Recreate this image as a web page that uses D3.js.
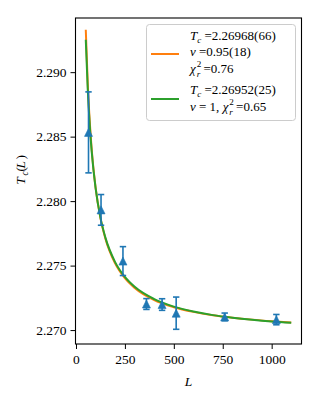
<!DOCTYPE html>
<html>
<head>
<meta charset="utf-8">
<script src="https://cdn.jsdelivr.net/npm/d3@7"></script>
<style>
  body { margin: 0; background: #fff; }
  svg text, svg tspan { font-family: "Liberation Serif", "Times New Roman", "DejaVu Serif", serif !important; }
</style>
</head>
<body>
<div id="container"></div>
<script>
/**
 * DATA
 * */
const sizeL = [64, 128, 240, 360, 440, 512, 760, 1024];
const tcValues = [2.28533, 2.27932, 2.27535, 2.27202, 2.27198, 2.27131, 2.27102, 2.27081];
const tcErrors = [0.00314, 0.00119, 0.00112, 0.00042, 0.00045, 0.00125, 0.0003, 0.0004];

// fit curves, sampled along L
const fitL = [50, 60, 70, 80, 100, 125, 150, 200, 250, 300, 400, 500, 600, 700, 800, 900, 1000, 1100];
const fitFreeNu = [2.29329, 2.28916, 2.28625, 2.28407, 2.28106, 2.27868, 2.27711, 2.27517, 2.27402,
  2.27326, 2.27232, 2.27177, 2.27141, 2.27115, 2.27096, 2.27081, 2.27069, 2.27059];
const fitNuOne = [2.29252, 2.28869, 2.28595, 2.28390, 2.28102, 2.27872, 2.27719, 2.27527, 2.27412,
  2.27335, 2.27240, 2.27182, 2.27144, 2.27116, 2.27096, 2.27080, 2.27067, 2.27057];

const xTicks = [0, 250, 500, 750, 1000];
const yTicks = [2.270, 2.275, 2.280, 2.285, 2.290];

/**
 * CONSTANTS
 * */
const width = 320, height = 400;
const plot = { left: 75.5, right: 301.5, top: 18, bottom: 344 };
const blue = "#1f77b4", orange = "#ff7f0e", green = "#2ca02c";
const serif = "'Liberation Serif', 'Times New Roman', serif";
const fs = 13.5;

const svg = d3.select("#container")
  .append("svg")
  .attr("width", width)
  .attr("height", height)
  .attr("font-family", serif);

const x = d3.scaleLinear().domain([-2.5, 1152.5]).range([plot.left, plot.right]);
const y = d3.scaleLinear().domain([2.26892, 2.2942]).range([plot.bottom, plot.top]);

// axes
const xAxis = svg.append("g")
  .attr("transform", `translate(0,${plot.bottom})`)
  .call(d3.axisBottom(x).tickValues(xTicks).tickFormat(d3.format("d")).tickSize(5).tickPadding(5));
const yAxis = svg.append("g")
  .attr("transform", `translate(${plot.left},0)`)
  .call(d3.axisLeft(y).tickValues(yTicks).tickFormat(d3.format(".3f")).tickSize(5).tickPadding(4));

[xAxis, yAxis].forEach(g => {
  g.attr("font-family", serif);
  g.select(".domain").remove();
  g.selectAll("line").attr("stroke", "#000").attr("stroke-width", 1);
  g.selectAll("text").attr("font-size", fs).attr("fill", "#000").attr("font-family", serif);
});

// fit curves
const line = d3.line().x((d, i) => x(fitL[i])).y(d => y(d)).curve(d3.curveMonotoneX);

svg.append("path").datum(fitFreeNu)
  .attr("d", line).attr("fill", "none").attr("stroke", orange).attr("stroke-width", 2);
svg.append("path").datum(fitNuOne)
  .attr("d", line).attr("fill", "none").attr("stroke", green).attr("stroke-width", 2);

// error bars
const pts = sizeL.map((L, i) => ({ L, v: tcValues[i], e: tcErrors[i] }));
const bars = svg.append("g").attr("stroke", blue).attr("stroke-width", 1.6);
bars.selectAll("line.err").data(pts).join("line").attr("class", "err")
  .attr("x1", d => x(d.L)).attr("x2", d => x(d.L))
  .attr("y1", d => y(d.v - d.e)).attr("y2", d => y(d.v + d.e));
bars.selectAll("line.capTop").data(pts).join("line").attr("class", "capTop")
  .attr("x1", d => x(d.L) - 3.2).attr("x2", d => x(d.L) + 3.2)
  .attr("y1", d => y(d.v + d.e)).attr("y2", d => y(d.v + d.e));
bars.selectAll("line.capBot").data(pts).join("line").attr("class", "capBot")
  .attr("x1", d => x(d.L) - 3.2).attr("x2", d => x(d.L) + 3.2)
  .attr("y1", d => y(d.v - d.e)).attr("y2", d => y(d.v - d.e));

// triangle markers
const h = 4;
svg.append("g").selectAll("path").data(pts).join("path")
  .attr("d", `M0,${-h}L${h},${h}L${-h},${h}Z`)
  .attr("transform", d => `translate(${x(d.L)},${y(d.v)})`)
  .attr("fill", blue).attr("stroke", blue).attr("stroke-width", 0.6);

// frame
svg.append("rect")
  .attr("x", plot.left).attr("y", plot.top)
  .attr("width", plot.right - plot.left).attr("height", plot.bottom - plot.top)
  .attr("fill", "none").attr("stroke", "#000").attr("stroke-width", 1.1);

// math-ish text helper: segments {t, it, shift, dx, small}
function mathText(g, px, py, segs, anchor, size) {
  const base = size || fs;
  const t = g.append("text").attr("x", px).attr("y", py)
    .attr("font-size", base).attr("fill", "#000").attr("font-family", serif);
  if (anchor) t.attr("text-anchor", anchor);
  segs.forEach(s => {
    const sp = t.append("tspan").text(s.t)
      .attr("y", py + (s.shift || 0))
      .attr("font-size", s.small ? base * 0.7 : base)
      .attr("font-style", s.it ? "italic" : "normal");
    if (s.dx) sp.attr("dx", s.dx);
  });
  return t;
}

const T_c = [{ t: "T", it: true }, { t: "c", it: true, small: true, shift: 2.5 }];
const chi2r = [{ t: "χ", it: true }, { t: "2", small: true, shift: -6, dx: 1 },
  { t: "r", it: true, small: true, shift: 4, dx: -4.6 }];

// legend
const leg = svg.append("g");
leg.append("rect")
  .attr("x", 146.5).attr("y", 24.5).attr("width", 149).attr("height", 96).attr("rx", 3)
  .attr("fill", "#fff").attr("fill-opacity", 0.8).attr("stroke", "#ccc").attr("stroke-width", 1);

leg.append("line").attr("x1", 151).attr("x2", 179).attr("y1", 54).attr("y2", 54)
  .attr("stroke", orange).attr("stroke-width", 2);
leg.append("line").attr("x1", 151).attr("x2", 179).attr("y1", 99).attr("y2", 99)
  .attr("stroke", green).attr("stroke-width", 2);

const tx = 190, lfs = 13;
mathText(leg, tx, 40, [...T_c, { t: " =2.26968(66)" }], null, lfs);
mathText(leg, tx, 56, [{ t: "ν", it: true }, { t: " =0.95(18)" }], null, lfs);
mathText(leg, tx, 73, [...chi2r, { t: " =0.76", shift: 0 }], null, lfs);
mathText(leg, tx, 94, [...T_c, { t: " =2.26952(25)" }], null, lfs);
mathText(leg, tx, 111, [{ t: "ν", it: true }, { t: " = 1, " }, ...chi2r, { t: " =0.65", shift: 0 }], null, lfs);

// axis labels
mathText(svg, (plot.left + plot.right) / 2, 386, [{ t: "L", it: true }], "middle");
const yl = svg.append("g").attr("transform", "translate(25,181) rotate(-90)");
mathText(yl, 0, 0, [...T_c, { t: "(", shift: 0 }, { t: "L", it: true }, { t: ")" }], "middle");
</script>
</body>
</html>
